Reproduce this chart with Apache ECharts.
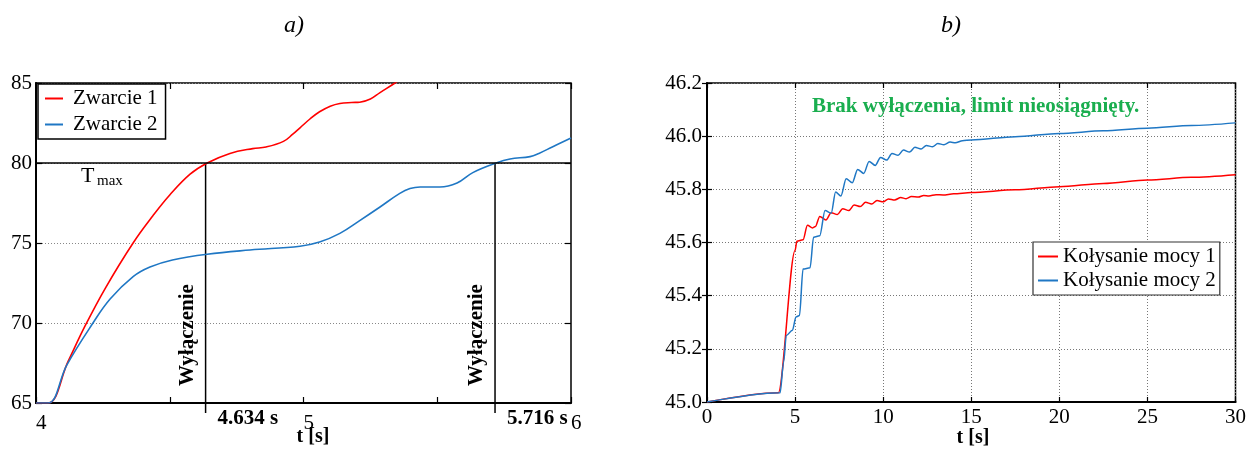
<!DOCTYPE html>
<html><head><meta charset="utf-8">
<script src="https://cdn.jsdelivr.net/npm/echarts@6/dist/echarts.min.js"></script>
<style>html,body{margin:0;padding:0;background:#fff}#c{width:1249px;height:453px}</style>
</head><body><div id="c"></div>
<script>
const FONT = '"Liberation Serif","Times New Roman",serif';
const RED = '#ff0000', BLUE = '#1f77c4', GREEN = '#1aae4f';

// ---- Chart a) : temperature during faults ----
const tMax = 80;
const cutoffTimes = [4.634, 5.716];
const fault1T = [4.0, 4.045, 4.12, 4.183, 4.26, 4.363, 4.437, 4.5, 4.576, 4.64, 4.725, 4.81, 4.86, 4.925, 4.96, 4.987, 5.024, 5.06, 5.1, 5.136, 5.18, 5.21, 5.25, 5.286, 5.342, 5.40];
const fault1V = [65, 65, 67.6, 69.8, 72.2, 75.0, 76.7, 78.0, 79.3, 80.0, 80.6, 80.9, 81.0, 81.35, 81.8, 82.2, 82.75, 83.2, 83.55, 83.72, 83.78, 83.8, 84.0, 84.4, 85.0, 85.7];
const fault2T = [4.0, 4.045, 4.116, 4.213, 4.277, 4.363, 4.426, 4.51, 4.64, 4.8, 4.987, 5.06, 5.136, 5.21, 5.286, 5.36, 5.398, 5.436, 5.51, 5.574, 5.633, 5.72, 5.772, 5.847, 5.88, 5.93, 6.0];
const fault2V = [65, 65, 67.4, 70, 71.5, 72.9, 73.5, 73.94, 74.3, 74.56, 74.8, 75.06, 75.6, 76.4, 77.25, 78.1, 78.4, 78.5, 78.5, 78.75, 79.4, 80.0, 80.25, 80.4, 80.6, 81.0, 81.56];

// ---- Chart b) : power swings ----
const swing1T = [0, 4.05, 5.0, 5.1, 5.45, 5.7, 6.0, 6.15, 6.4, 6.75, 7.05, 7.4, 7.7, 8.05, 8.35, 8.7, 9.0, 9.35, 9.65, 10.0, 10.3, 10.65, 11.0, 11.3, 11.6, 12.0, 12.3, 12.6, 13.0, 13.4, 14.0, 15.0, 17.5, 20.0, 22.5, 25.0, 27.5, 30.0];
const swing1V = [45.0, 45.035, 45.57, 45.605, 45.61, 45.665, 45.655, 45.66, 45.698, 45.685, 45.712, 45.705, 45.727, 45.72, 45.741, 45.735, 45.751, 45.745, 45.758, 45.753, 45.764, 45.76, 45.769, 45.765, 45.773, 45.771, 45.777, 45.775, 45.78, 45.779, 45.783, 45.788, 45.798, 45.81, 45.822, 45.835, 45.845, 45.855];
const swing2T = [0, 4.15, 4.35, 4.5, 4.85, 5.05, 5.25, 5.45, 5.85, 6.05, 6.4, 6.7, 7.05, 7.3, 7.6, 7.9, 8.25, 8.55, 8.9, 9.2, 9.55, 9.85, 10.2, 10.5, 10.85, 11.15, 11.5, 11.8, 12.15, 12.45, 12.8, 13.1, 13.45, 13.8, 14.1, 14.5, 15.0, 17.5, 20.0, 22.5, 25.0, 27.5, 30.0];
const swing2V = [45.0, 45.035, 45.15, 45.25, 45.27, 45.32, 45.325, 45.50, 45.505, 45.62, 45.625, 45.72, 45.71, 45.79, 45.775, 45.84, 45.825, 45.875, 45.86, 45.905, 45.89, 45.92, 45.91, 45.935, 45.928, 45.948, 45.94, 45.958, 45.952, 45.965, 45.96, 45.972, 45.968, 45.978, 45.975, 45.983, 45.986, 45.998, 46.01, 46.02, 46.03, 46.04, 46.05];

const zip = (a, b) => a.map((v, i) => [v, b[i]]);

const chart = echarts.init(document.getElementById('c'), null, {renderer: 'canvas'});

const lbl = {fontFamily: FONT, fontSize: 21, color: '#000'};
const tick = (len) => ({inside: true, length: len, lineStyle: {color: '#000', width: 1.2}});

const option = {
  animation: false,
  backgroundColor: '#fff',
  grid: [
    {left: 36, top: 83, width: 535, height: 320, show: true, borderColor: '#000', borderWidth: 1.5, backgroundColor: 'transparent'},
    {left: 707, top: 83, width: 531, height: 319, show: true, borderColor: '#000', borderWidth: 1.5, backgroundColor: 'transparent'}
  ],
  xAxis: [
    {gridIndex: 0, type: 'value', min: 4, max: 6, interval: 0.5,
     axisLine: {show: true, lineStyle: {color: '#000', width: 2}}, axisTick: tick(6),
     axisLabel: Object.assign({align: 'left', margin: 10, formatter: v => Number.isInteger(v) ? String(v) : ''}, lbl),
     splitLine: {show: false}},
    {gridIndex: 0, type: 'value', position: 'top', min: 4, max: 6, interval: 0.5,
     axisLine: {show: false}, axisTick: tick(6), axisLabel: {show: false}, splitLine: {show: false}},
    {gridIndex: 1, type: 'value', min: 0, max: 30, interval: 5,
     axisLine: {show: true, lineStyle: {color: '#000', width: 2}}, axisTick: tick(5),
     axisLabel: Object.assign({margin: 5}, lbl),
     splitLine: {show: true, lineStyle: {color: '#777', type: [1, 2], width: 1}}},
    {gridIndex: 1, type: 'value', position: 'top', min: 0, max: 30, interval: 5,
     axisLine: {show: false}, axisTick: tick(5), axisLabel: {show: false}, splitLine: {show: false}}
  ],
  yAxis: [
    {gridIndex: 0, type: 'value', min: 65, max: 85, interval: 5,
     axisLine: {show: true, lineStyle: {color: '#000', width: 2}}, axisTick: tick(6),
     axisLabel: Object.assign({margin: 4}, lbl),
     splitLine: {show: true, lineStyle: {color: '#888', type: [1, 2], width: 1}}},
    {gridIndex: 0, type: 'value', position: 'right', min: 65, max: 85, interval: 5,
     axisLine: {show: false}, axisTick: tick(6), axisLabel: {show: false}, splitLine: {show: false}},
    {gridIndex: 1, type: 'value', min: 45, max: 46.2, interval: 0.2,
     axisLine: {show: true, lineStyle: {color: '#000', width: 2}}, axisTick: tick(5),
     axisLabel: Object.assign({margin: 5, formatter: v => v.toFixed(1)}, lbl),
     splitLine: {show: true, lineStyle: {color: '#777', type: [1, 2], width: 1}}},
    {gridIndex: 1, type: 'value', position: 'right', min: 45, max: 46.2, interval: 0.2,
     axisLine: {show: false}, axisTick: tick(5), axisLabel: {show: false}, splitLine: {show: false}}
  ],
  legend: [
    {left: 38, top: 84, orient: 'vertical', data: ['Zwarcie 1', 'Zwarcie 2'],
     icon: 'rect', itemWidth: 18, itemHeight: 2, itemGap: 5, padding: [4, 8, 4, 7],
     borderColor: '#000', borderWidth: 1.5, backgroundColor: '#fff',
     textStyle: {fontFamily: FONT, fontSize: 21, lineHeight: 21, color: '#000', padding: [0, 0, 0, 5]}},
    {left: 1033, top: 242, orient: 'vertical', data: ['Kołysanie mocy 1', 'Kołysanie mocy 2'],
     icon: 'rect', itemWidth: 20, itemHeight: 2, itemGap: 3, padding: [4, 4, 4, 5],
     borderColor: '#333', borderWidth: 1.2, backgroundColor: '#fff',
     textStyle: {fontFamily: FONT, fontSize: 21, lineHeight: 21, color: '#000', padding: [0, 0, 0, 0]}}
  ],
  series: [
    {name: 'Zwarcie 1', type: 'line', xAxisIndex: 0, yAxisIndex: 0, data: zip(fault1T, fault1V),
     symbol: 'none', smooth: 0.4, color: RED, lineStyle: {width: 1.6, color: RED}, z: 3,
     markLine: {silent: true, symbol: 'none', label: {show: false},
       lineStyle: {color: '#000', width: 1.6, type: 'solid'}, data: [{yAxis: tMax}]}},
    {name: 'Zwarcie 2', type: 'line', xAxisIndex: 0, yAxisIndex: 0, data: zip(fault2T, fault2V),
     symbol: 'none', smooth: 0.4, color: BLUE, lineStyle: {width: 1.6, color: BLUE}, z: 3},
    {name: 'cutoff', type: 'custom', xAxisIndex: 0, yAxisIndex: 0, clip: false, silent: true,
     data: cutoffTimes.map(t => [t, tMax]),
     renderItem: function (params, api) {
       const t = api.value(0);
       const top = api.coord([t, api.value(1)]);
       const bot = api.coord([t, 65]);
       return {type: 'group', children: [
         {type: 'line', shape: {x1: top[0], y1: top[1], x2: bot[0], y2: bot[1] + 10},
          style: {stroke: '#000', lineWidth: 1.5}},
         {type: 'text', x: top[0] - 18, y: bot[1] - 68, rotation: Math.PI / 2,
          style: {text: 'Wyłączenie', fontFamily: FONT, fontSize: 21, fontWeight: 'bold', fill: '#000', align: 'center', verticalAlign: 'middle'}},
         {type: 'text', x: top[0] + 12, y: bot[1] + 16,
          style: {text: t.toFixed(3) + ' s', fontFamily: FONT, fontSize: 21, fontWeight: 'bold', fill: '#000', align: 'left', verticalAlign: 'middle'}}
       ]};
     }},
    {name: 'Kołysanie mocy 1', type: 'line', xAxisIndex: 2, yAxisIndex: 2, data: zip(swing1T, swing1V),
     symbol: 'none', smooth: 0.3, smoothMonotone: 'x', color: RED, lineStyle: {width: 1.5, color: RED}, z: 3},
    {name: 'Kołysanie mocy 2', type: 'line', xAxisIndex: 2, yAxisIndex: 2, data: zip(swing2T, swing2V),
     symbol: 'none', smooth: 0.3, smoothMonotone: 'x', color: BLUE, lineStyle: {width: 1.5, color: BLUE}, z: 3}
  ],
  graphic: [
    {type: 'text', left: 284, top: 14, style: {text: 'a)', fontFamily: FONT, fontSize: 24, fontStyle: 'italic', fill: '#000'}},
    {type: 'text', left: 941, top: 14, style: {text: 'b)', fontFamily: FONT, fontSize: 24, fontStyle: 'italic', fill: '#000'}},
    {type: 'text', x: 81, y: 176.5, style: {text: 'T', fontFamily: FONT, fontSize: 22, fill: '#000', verticalAlign: 'middle'}},
    {type: 'text', x: 97, y: 181, style: {text: 'max', fontFamily: FONT, fontSize: 15, fill: '#000', verticalAlign: 'middle'}},
    {type: 'text', x: 812, y: 106.5, style: {text: 'Brak wyłączenia, limit nieosiągnięty.', fontFamily: FONT, fontSize: 21, fontWeight: 'bold', fill: GREEN, verticalAlign: 'middle'}},
    {type: 'text', x: 313, y: 437, style: {text: 't [s]', fontFamily: FONT, fontSize: 20, fontWeight: 'bold', fill: '#000', align: 'center', verticalAlign: 'middle'}},
    {type: 'text', x: 973, y: 438, style: {text: 't [s]', fontFamily: FONT, fontSize: 20, fontWeight: 'bold', fill: '#000', align: 'center', verticalAlign: 'middle'}}
  ]
};
chart.setOption(option);
</script>
</body></html>
